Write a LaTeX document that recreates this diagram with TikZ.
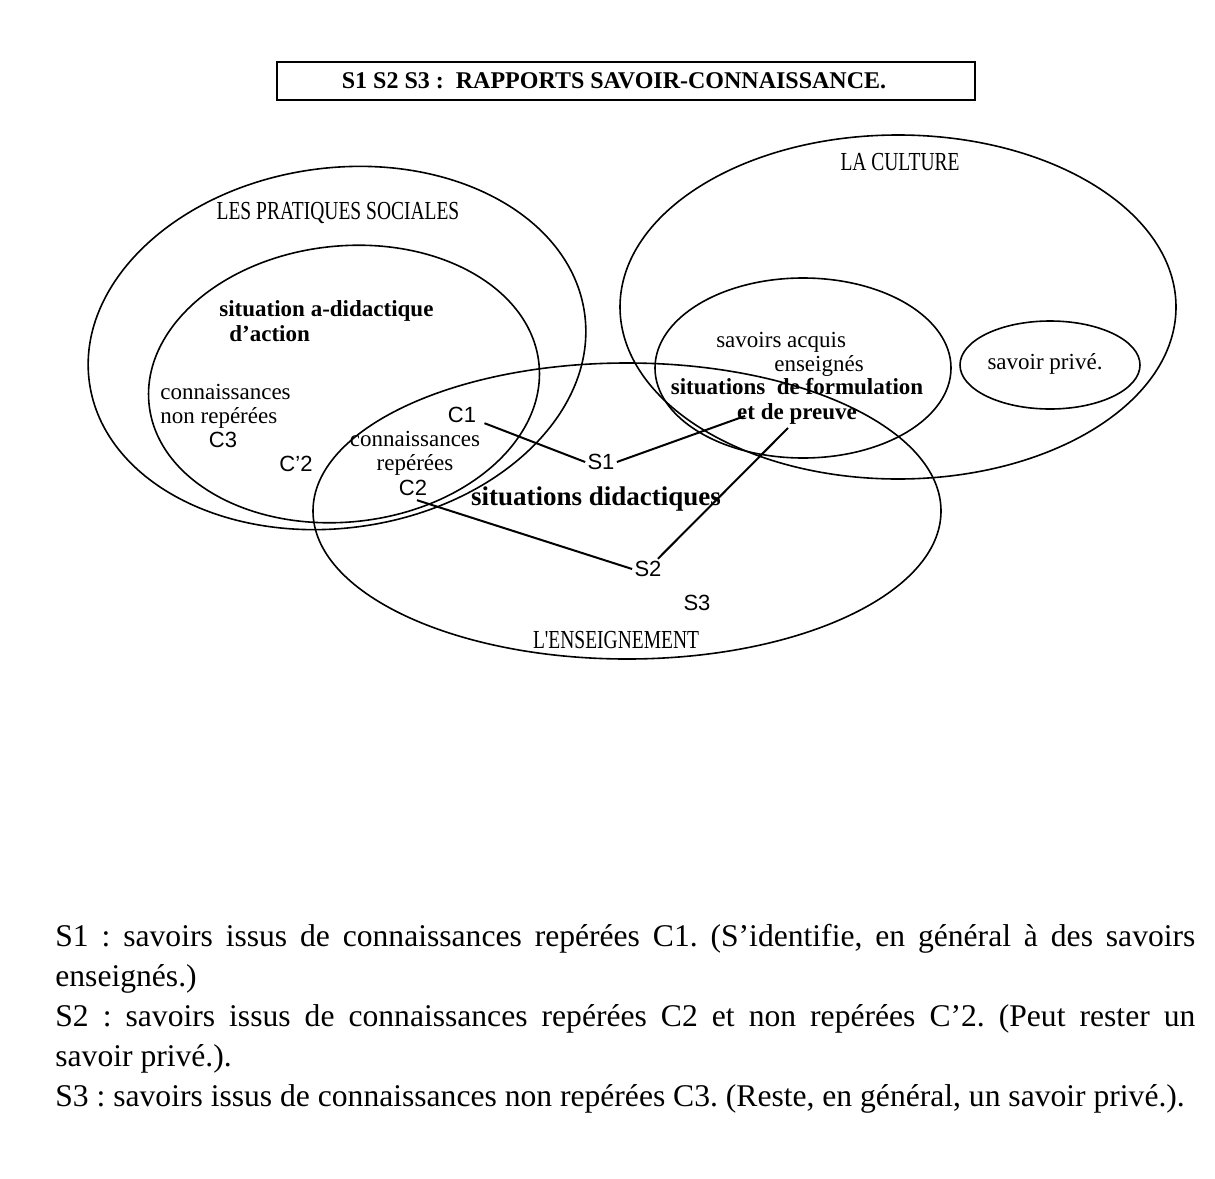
\documentclass[tikz,border=0pt]{standalone}
\usepackage{fontspec}
\setmainfont{Liberation Serif}
\setsansfont{Liberation Sans}
\newfontfamily\capsfont[FakeStretch=0.75]{Liberation Serif}
\usetikzlibrary{shapes.geometric}
\newcommand{\pxunit}[0]{0.5pt}

\begin{document}
\begin{tikzpicture}[x=\pxunit, y=-\pxunit]
  \tikzset{every node/.style={inner sep=1pt},
           zone/.style={draw, ellipse, line width=0.8pt, inner sep=0pt},
           caps/.style={font=\capsfont\fontsize{13}{13}\selectfont},
           lbl/.style={font=\fontsize{11.5}{12}\selectfont},
           blbl/.style={font=\bfseries\fontsize{11.5}{12.5}\selectfont},
           sym/.style={font=\sffamily\fontsize{11}{11}\selectfont},
           link/.style={line width=1pt}}
  \useasboundingbox (0,0) rectangle (1215,1178);
  \node[draw, line width=0.7pt, minimum width=349pt, minimum height=19pt,
        font=\bfseries\fontsize{12}{12}\selectfont] (titre) at (626,81)
        {S1 S2 S3 :\ \ RAPPORTS SAVOIR-CONNAISSANCE.\hspace*{12pt}};
  % ensembles
  \node[zone, minimum width=250pt, minimum height=180pt, rotate=8] (pratiques) at (337,348) {};
  \node[zone, minimum width=196pt, minimum height=138pt, rotate=6] (adidact) at (344,384) {};
  \node[zone, minimum width=314pt, minimum height=148pt] (enseignement) at (627,511) {};
  \node[zone, minimum width=278pt, minimum height=172pt] (culture) at (898,307) {};
  \node[zone, minimum width=148pt, minimum height=90pt] (acquis) at (803,368) {};
  \node[zone, minimum width=90pt, minimum height=44pt] (prive) at (1050,365) {};
  % titres des ensembles
  \node[caps] (tpratiques) at (338,213) {LES PRATIQUES SOCIALES};
  \node[caps] (tculture) at (900,162) {LA CULTURE};
  \node[caps] (tenseignement) at (616,640) {L'ENSEIGNEMENT};
  % situations
  \node[blbl, align=left, anchor=west] (sadidact) at (217,321)
        {situation a-didactique\\\hspace*{5pt}d'action};
  \node[blbl, font=\bfseries\fontsize{13.5}{14}\selectfont] (sdidact) at (596,499) {situations didactiques};
  \node[blbl, align=center] (sformul) at (797,401) {situations\ \ de formulation\\et de preuve};
  % connaissances et savoirs
  \node[lbl, align=left, anchor=west] (nonrep) at (158,406) {connaissances\\non repérées};
  \node[lbl, align=center] (rep) at (415,453) {connaissances\\repérées};
  \node[lbl, align=left] (tacquis) at (790,354) {savoirs acquis\\\hspace*{29pt}enseignés};
  \node[lbl] (tprive) at (1045,364) {savoir privé.};
  \node[sym] (c3) at (223,440) {C3};
  \node[sym] (c2p) at (296,464) {C'2};
  \node[sym] (c2) at (413,488) {C2};
  \node[sym] (c1) at (462,415) {C1};
  \node[sym] (s1) at (601,462) {S1};
  \node[sym] (s2) at (648,569) {S2};
  \node[sym] (s3) at (697,603) {S3};
  \coordinate (fp1) at (745,416);
  \coordinate (fp2) at (788,428);
  \draw[link] ([xshift=3pt,yshift=1pt]c1.south east) -- (s1.west);
  \draw[link] (s1.east) -- (fp1);
  \draw[link] ([xshift=2pt,yshift=-1pt]c2.south) -- (s2.west);
  \draw[link] ([xshift=-3pt]s2.north east) -- (fp2);
  % legende
  \node[anchor=north west, text width=570pt, align=justify, inner sep=0pt,
        font=\frenchspacing\fontsize{15.8}{20}\selectfont] (legende) at (55,924)
        {S1 : savoirs issus de connaissances repérées C1. (S'identifie, en général à des savoirs\linebreak
         enseignés.)\\
         S2 : savoirs issus de connaissances repérées C2 et non repérées C'2. (Peut rester un\linebreak
         savoir privé.).\\
         S3 : savoirs issus de connaissances non repérées C3. (Reste, en général, un savoir privé.).};
\end{tikzpicture}
\end{document}
